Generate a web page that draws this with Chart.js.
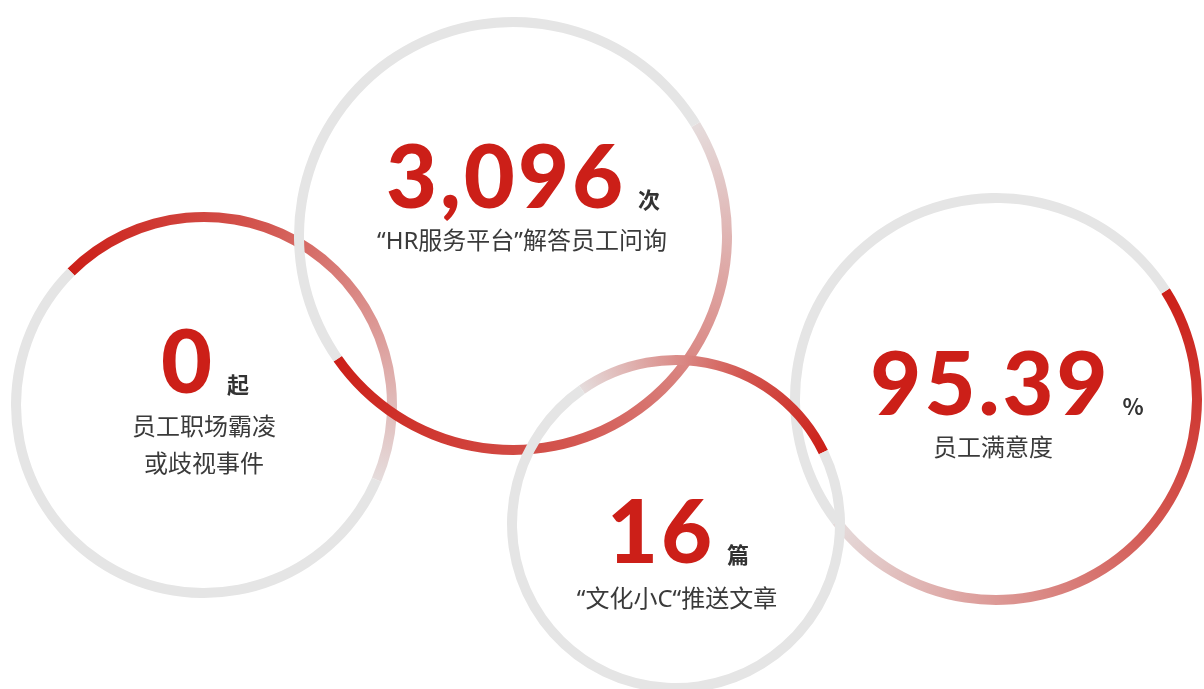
<!DOCTYPE html>
<html lang="zh-CN">
<head>
<meta charset="utf-8">
<title>员工数据</title>
<script src="https://cdn.jsdelivr.net/npm/chart.js@4/dist/chart.umd.min.js"></script>
<style>
    html, body {
        margin: 0;
        padding: 0;
        background: #ffffff;
    }
    body {
        position: relative;
        width: 1204px;
        height: 689px;
        overflow: hidden;
    }
    .ring {
        position: absolute;
    }
    .figure {
        position: absolute;
        display: flex;
        align-items: baseline;
        white-space: nowrap;
        transform: translateX(-50%);
        line-height: 1;
    }
    .figure .big {
        font-family: Lato, Inter, sans-serif;
        font-weight: 900;
        font-size: 88px;
        color: #cc1f18;
        letter-spacing: 3px;
    }
    .figure .unit {
        font-family: "Noto Sans CJK SC", sans-serif;
        font-weight: 700;
        font-size: 22px;
        color: #333333;
        margin-left: 12px;
    }
    .caption {
        position: absolute;
        transform: translateX(-50%);
        text-align: center;
        white-space: nowrap;
        font-family: "Noto Sans", "Noto Sans CJK SC", sans-serif;
        font-size: 24px;
        line-height: 37px;
        color: #3a3a3a;
    }
</style>
</head>
<body>
<script>
// ===== Data =====
const captions = [
    '员工职场霸凌\n或歧视事件',
    '“HR服务平台”解答员工问询',
    '“文化小C“推送文章',
    '员工满意度'
];
const figures = ['0', '3,096', '16', '95.39'];
const units = ['起', '次', '篇', '%'];
// share of each ring covered by the red arc (percent of the full circle)
const arcShare = [44, 49, 27.5, 48.6];

// ===== Layout (px / degrees) =====
const centers = [[204, 405], [513, 236], [676, 524], [996, 399]];
const radii = [188, 214, 164, 201];
const rotations = [-45, 58.6, -35, 57.5];      // arc start, clockwise from 12 o'clock
const darkAtStart = [true, false, false, true];
const figureX = [205, 523, 678, 1007];
const figureTops = [315, 130, 485, 337];
const captionX = [204, 522, 677, 993];
const captionTops = [407, 221, 579, 428];
const drawOrder = [0, 3, 1, 2];

const RING = 10;
const RED = '#cc1f18';
const MID = '#d35650';
const PALE = '#e5dcdc';
const GREY = '#e5e5e5';

function arcGradient(chart, i) {
    const area = chart.chartArea;
    if (!area) return RED;
    const cx = (area.left + area.right) / 2;
    const cy = (area.top + area.bottom) / 2;
    const eps = 0.02;
    const start = (rotations[i] - 90) * Math.PI / 180 - eps;
    const span = arcShare[i] / 100 * Math.PI * 2;
    const g = chart.ctx.createConicGradient(start, cx, cy);
    const p0 = eps / (Math.PI * 2);
    const p1 = (eps + span) / (Math.PI * 2);
    // stops run clockwise; flip so the dark end sits where the picture has it
    const stops = darkAtStart[i]
        ? [[0, RED], [0.4, MID], [1, PALE]]
        : [[0, PALE], [0.6, MID], [1, RED]];
    g.addColorStop(0, stops[0][1]);
    stops.forEach(([t, c]) => g.addColorStop(p0 + t * (p1 - p0), c));
    g.addColorStop(1, stops[2][1]);
    return g;
}

function buildRing(i) {
    const [cx, cy] = centers[i];
    const r = radii[i];
    const box = 2 * r + 24;

    const wrap = document.createElement('div');
    wrap.className = 'ring';
    wrap.style.left = (cx - box / 2) + 'px';
    wrap.style.top = (cy - box / 2) + 'px';
    wrap.style.width = box + 'px';
    wrap.style.height = box + 'px';
    const canvas = document.createElement('canvas');
    wrap.appendChild(canvas);
    document.body.appendChild(wrap);

    const outer = r + RING / 2;
    const inner = r - RING / 2;

    new Chart(canvas, {
        type: 'doughnut',
        data: {
            labels: [captions[i], ''],
            datasets: [{
                data: [arcShare[i], 100 - arcShare[i]],
                backgroundColor: (ctx) => ctx.dataIndex === 0 ? arcGradient(ctx.chart, i) : GREY,
                borderWidth: 0,
                hoverOffset: 0
            }]
        },
        options: {
            responsive: true,
            maintainAspectRatio: false,
            animation: false,
            events: [],
            rotation: rotations[i],
            radius: outer,
            cutout: (inner / outer * 100) + '%',
            layout: { padding: 0 },
            plugins: {
                legend: { display: false },
                tooltip: { enabled: false }
            }
        }
    });
}

function buildText(i) {
    const fig = document.createElement('div');
    fig.className = 'figure';
    fig.style.left = figureX[i] + 'px';
    fig.style.top = figureTops[i] + 'px';
    const big = document.createElement('span');
    big.className = 'big';
    big.textContent = figures[i];
    const unit = document.createElement('span');
    unit.className = 'unit';
    unit.textContent = units[i];
    fig.appendChild(big);
    fig.appendChild(unit);
    document.body.appendChild(fig);

    const cap = document.createElement('div');
    cap.className = 'caption';
    cap.style.left = captionX[i] + 'px';
    cap.style.top = captionTops[i] + 'px';
    captions[i].split('\n').forEach((line, k) => {
        if (k) cap.appendChild(document.createElement('br'));
        cap.appendChild(document.createTextNode(line));
    });
    document.body.appendChild(cap);
}

drawOrder.forEach(buildRing);
drawOrder.forEach(buildText);
</script>
</body>
</html>
